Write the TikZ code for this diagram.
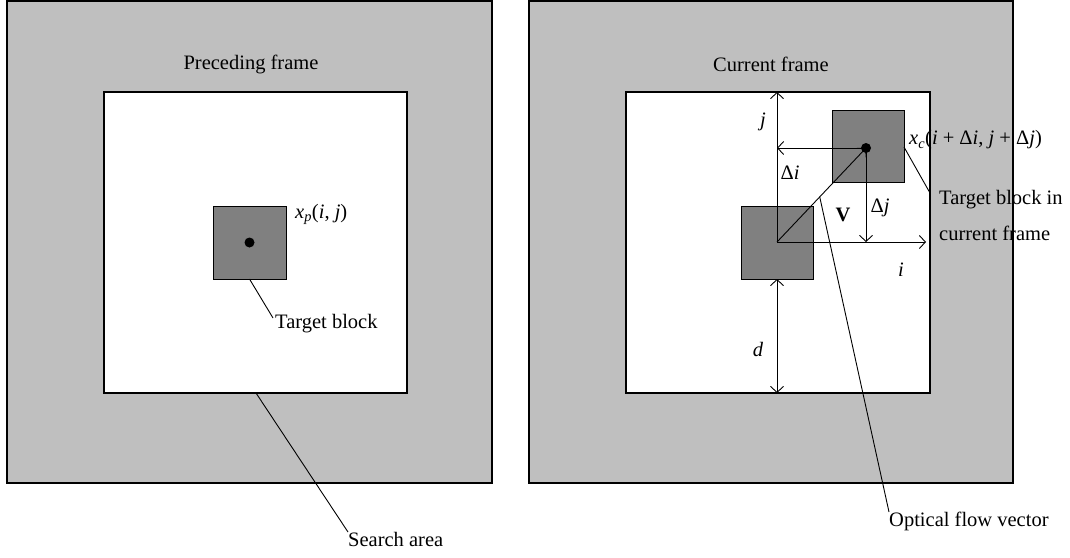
\documentclass[tikz,border=0pt]{standalone}
\usepackage{fontspec}
\setmainfont{Liberation Serif}
\usetikzlibrary{arrows.meta,calc}
\definecolor{areagray}{RGB}{191,191,191}
\definecolor{blockgray}{RGB}{128,128,128}
\begin{document}
\begin{tikzpicture}[x=1pt,y=-1pt,
  frame/.style={draw=black, line width=1.3pt, inner sep=0pt, outer sep=0pt},
  outerbox/.style={frame, fill=areagray},
  innerbox/.style={frame, fill=white},
  blockbox/.style={draw=black, line width=1pt, fill=blockgray, inner sep=0pt, outer sep=0pt},
  lbl/.style={font=\fontsize{20.5}{24}\selectfont, inner sep=0pt},
  conn/.style={line width=0.9pt},
  arr/.style={conn, -{Straight Barb[length=6pt,width=13pt,line width=0.9pt]}},
  darr/.style={conn, {Straight Barb[length=6pt,width=13pt,line width=0.9pt]}-{Straight Barb[length=6pt,width=13pt,line width=0.9pt]}}
]
\useasboundingbox (0,0) rectangle (1070,557);
% frames
\node[outerbox, minimum width=485pt, minimum height=482pt] (outerL) at (249.5,242) {};
\node[outerbox, minimum width=484pt, minimum height=482pt] (outerR) at (771,242) {};
\node[innerbox, minimum width=303pt, minimum height=301pt] (innerL) at (255.5,242.5) {};
\node[innerbox, minimum width=304pt, minimum height=301pt] (innerR) at (778,242.5) {};
% titles
\node[lbl] (titleL) at (251,64) {Preceding frame};
\node[lbl] (titleR) at (771,64) {Current frame};
% left block
\node[blockbox, minimum width=73pt, minimum height=73pt] (lblock) at (249.5,242.5) {};
\fill (lblock.center) circle (5pt);
\node[lbl, anchor=west] (xp) at (295,214) {\textit{x}\textsubscript{\textit{p}}(\textit{i}, \textit{j})};
\coordinate (tbend) at (273,318);
\node[lbl, anchor=north west] (tb) at (275,314) {Target block};
\draw[conn] (lblock.south) -- (tbend);
% search area
\coordinate (sastart) at (256,393);
\node[lbl, anchor=north west] (sa) at (348,532) {Search area};
\draw[conn] (sastart) -- (sa.north west);
% right blocks
\node[blockbox, minimum width=72pt, minimum height=73pt] (sblock) at (777,242.5) {};
\node[blockbox, minimum width=72pt, minimum height=72pt] (bblock) at (868,146) {};
\coordinate (O) at (777,242);
\coordinate (P) at (866,148);
% vectors
\draw[arr] (O) -- (O |- innerR.north);
\draw[arr] (P) -- (O |- P);
\draw[arr] (O) -- (P);
\draw[arr] (P) -- (P |- O);
\draw[arr] (O) -- (926,242);
\draw[darr] (sblock.south) -- (sblock.south |- innerR.south);
\fill (P) circle (5pt);
% labels
\node[lbl] (lj) at (763,122) {\textit{j}};
\node[lbl] (ldi) at (790,173) {Δ\textit{i}};
\node[lbl] (lV) at (843,215) {\textbf{V}};
\node[lbl] (ldj) at (880,208) {Δ\textit{j}};
\node[lbl] (li) at (901,270) {\textit{i}};
\node[lbl] (ld) at (758,349) {\textit{d}};
\node[lbl, anchor=west] (xc) at (909,140) {\textit{x}\textsubscript{\textit{c}}(\textit{i} + Δ\textit{i}, \textit{j} + Δ\textit{j})};
% target block in current frame
\coordinate (tcstart) at (904,147);
\coordinate (tcend) at (930,193);
\node[lbl, anchor=north west, align=left, font=\fontsize{20.5}{36}\selectfont] (tc) at (939,190) {Target block in\\current frame};
\draw[conn] (tcstart) -- (tcend);
% optical flow vector
\coordinate (ofstart) at ($(O)!0.48!(P)$);
\node[lbl, anchor=north west] (of) at (889,512) {Optical flow vector};
\draw[conn] (ofstart) -- (of.north west);
\end{tikzpicture}
\end{document}
